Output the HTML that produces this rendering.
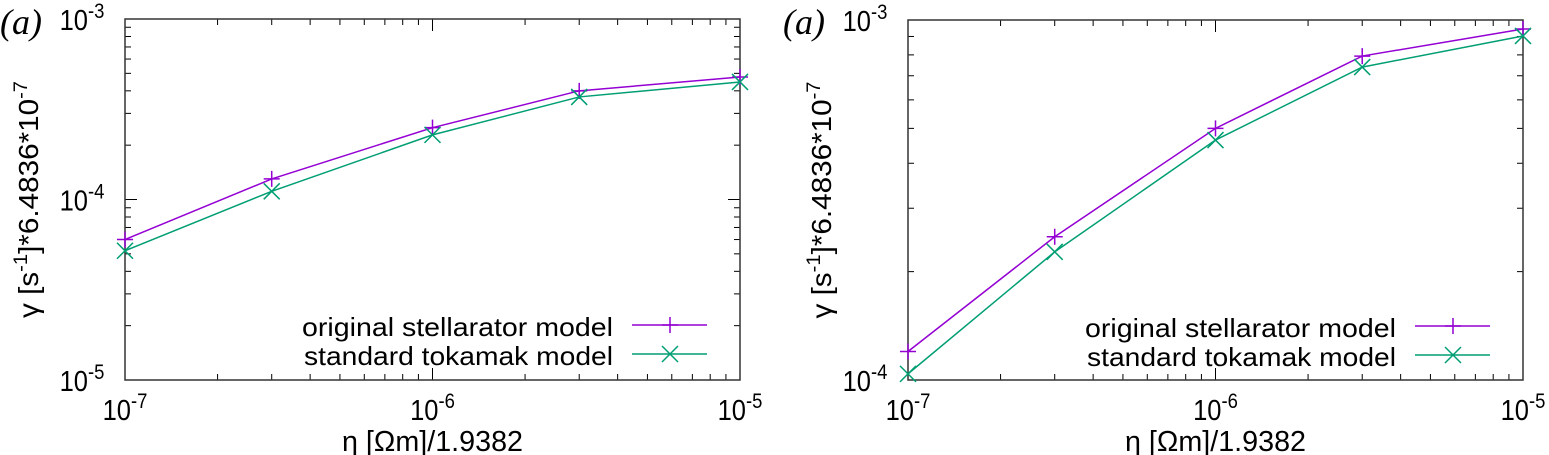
<!DOCTYPE html>
<html><head><meta charset="utf-8"><style>
body{margin:0;background:#fff}
svg{display:block;font-family:"Liberation Sans",sans-serif}
</style></head><body>
<svg id="c" width="1549" height="455"></svg>
<script>
const xVals=[1e-7,3e-7,1e-6,3e-6,1e-5];
const leftStell=[6.0e-5,1.3e-4,2.5e-4,4.0e-4,4.77e-4];
const leftTok=[5.2e-5,1.11e-4,2.28e-4,3.7e-4,4.48e-4];
const rightStell=[1.2e-4,2.5e-4,5.0e-4,7.94e-4,9.44e-4];
const rightTok=[1.04e-4,2.27e-4,4.64e-4,7.4e-4,9.03e-4];
const xTickExp=[-7,-6,-5];
const leftYExp=[-5,-4,-3];
const rightYExp=[-4,-3];
const seriesNames=["original stellarator model","standard tokamak model"];
const NS="http://www.w3.org/2000/svg";
const svg=document.getElementById('c');
function mk(t,a,p){const e=document.createElementNS(NS,t);for(const k in a)e.setAttribute(k,a[k]);(p||svg).appendChild(e);return e;}
function tickLabel(g,cx,by,e,name){
  const w=mk('g',{transform:`translate(${cx},${by}) scale(0.88,1)`},g);
  const t=mk('text',{x:0,y:0,'text-anchor':'middle','font-size':29},w);
  
  
  t.innerHTML='10<tspan dy="-12" font-size="21">'+e+'</tspan>';
}
function panel(id,L,R,T,B,ymin,ymax,yExp,s1,s2,ytx){
  const g=mk('g',{});
  
  
  const lx0=Math.log10(xVals[0]),lx1=Math.log10(1e-5);
  const X=v=>L+(Math.log10(v)-lx0)/(lx1-lx0)*(R-L);
  const Y=v=>B-(Math.log10(v)-Math.log10(ymin))/(Math.log10(ymax)-Math.log10(ymin))*(B-T);
  for(let e=-7;e<-5;e++)for(let m=1;m<10;m++){const v=m*Math.pow(10,e);const x=X(v);const len=m==1?12:6;
    mk('line',{x1:x,y1:B,x2:x,y2:B-len,stroke:'#000','stroke-width':1},g);mk('line',{x1:x,y1:T,x2:x,y2:T+len,stroke:'#000','stroke-width':1},g);}
  for(let e=Math.log10(ymin);e<Math.log10(ymax);e++)for(let m=1;m<10;m++){const v=m*Math.pow(10,e);const y=Y(v);const len=m==1?12:6;
    mk('line',{x1:L,y1:y,x2:L+len,y2:y,stroke:'#000','stroke-width':1},g);mk('line',{x1:R,y1:y,x2:R-len,y2:y,stroke:'#000','stroke-width':1},g);}
  mk('rect',{x:L,y:T,width:R-L,height:B-T,fill:'none',stroke:'#333','stroke-width':1.5},g);
  xTickExp.forEach(e=>tickLabel(g,X(Math.pow(10,e)),B+40,e,'x-tick-label'));
  yExp.forEach(e=>tickLabel(g,L-43,Y(Math.pow(10,e))+11,e,'y-tick-label'));
  const xt=mk('text',{x:(L+R)/2,y:451,'text-anchor':'middle','font-size':29,textLength:181,lengthAdjust:'spacingAndGlyphs'},g);
  
  xt.textContent='η [Ωm]/1.9382';
  const yt=mk('text',{x:0,y:0,'text-anchor':'middle','font-size':28,textLength:237,lengthAdjust:'spacingAndGlyphs',transform:`translate(${ytx},${(T+B)/2}) rotate(-90)`},g);
  
  yt.innerHTML='γ [s<tspan dy="-11" font-size="19">-1</tspan><tspan dy="11">]*6.4836*10</tspan><tspan dy="-11" font-size="19">-7</tspan>';
  const lab=mk('text',{x:L-125,y:34,'font-size':36,'font-family':'Liberation Serif, serif','font-style':'italic'},g);
  
  lab.textContent='(a)';
  const cols=['#9400d3','#009e73'];
  [s1,s2].forEach((s,i)=>{
    const pl=mk('polyline',{points:s.map((v,j)=>X(xVals[j])+','+Y(v)).join(' '),fill:'none',stroke:cols[i],'stroke-width':1.5},g);
    
    s.forEach((v,j)=>{marker(g,X(xVals[j]),Y(v),i,cols[i]);});
    const ly=T+306+i*29;
    const lt=mk('text',{x:L+488,y:ly+11,'text-anchor':'end','font-size':26,textLength:i?309:311,lengthAdjust:'spacingAndGlyphs'},g);
    
    lt.textContent=seriesNames[i];
    mk('line',{x1:L+507,y1:ly,x2:L+582,y2:ly,stroke:cols[i],'stroke-width':1.5},g);
    marker(g,L+545,ly,i,cols[i]);
  });
}
function marker(g,x,y,i,c){const s=8;
  if(i==0){mk('path',{d:`M${x-s} ${y}H${x+s}M${x} ${y-s}V${y+s}`,stroke:c,'stroke-width':1.5,fill:'none'},g);}
  else{mk('path',{d:`M${x-s} ${y-s}L${x+s} ${y+s}M${x-s} ${y+s}L${x+s} ${y-s}`,stroke:c,'stroke-width':1.5,fill:'none'},g);}
}
panel('left-panel',125,740,19,380,1e-5,1e-3,leftYExp,leftStell,leftTok,38);
panel('right-panel',908,1523,20,380,1e-4,1e-3,rightYExp,rightStell,rightTok,831);
</script>
</body></html>
